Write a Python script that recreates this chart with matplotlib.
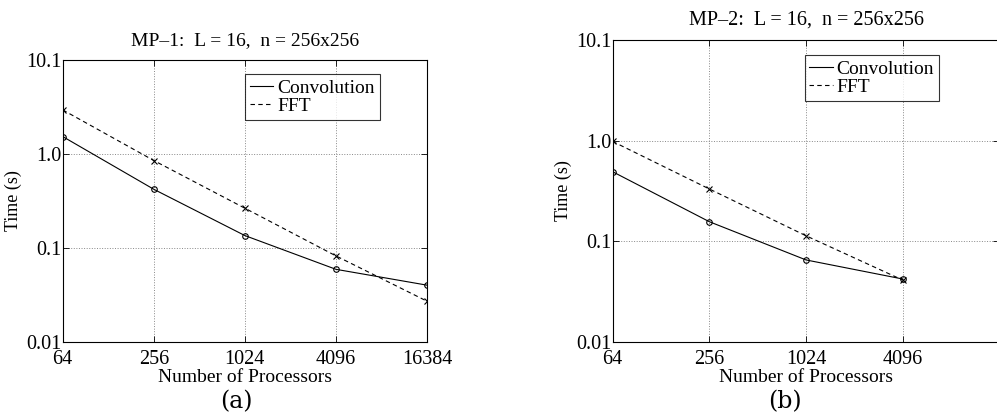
import matplotlib.pyplot as plt

plt.rcParams['font.family'] = ['Liberation Serif', 'DejaVu Serif']
plt.rcParams['font.size'] = 12

# panel (a): MP-1
procs_a = [64, 256, 1024, 4096, 16384]
conv_a = [1.53, 0.42, 0.135, 0.059, 0.040]
fft_a = [2.94, 0.85, 0.264, 0.082, 0.027]

# panel (b): MP-2
procs_b = [64, 256, 1024, 4096]
conv_b = [0.49, 0.156, 0.065, 0.042]
fft_b = [0.98, 0.33, 0.113, 0.041]

yticks = [0.01, 0.1, 1.0, 10.0]
ylabels = ['0.01', '0.1', '1.0', '10.1']

fig = plt.figure(figsize=(9.97, 4.16), dpi=100)
ax1 = fig.add_axes([0.0629, 0.1786, 0.3654, 0.6772])
ax2 = fig.add_axes([0.6145, 0.1786, 0.3880, 0.7252])


def setup(ax, procs, conv, fft, title, tsize, xticks, legend_pos):
    ax.plot(procs, conv, '-', color='black', lw=0.8, marker='o', ms=4,
            mfc='none', mew=0.8, label='Convolution')
    ax.plot(procs, fft, '--', color='black', lw=0.8, marker='x', ms=4,
            mew=0.8, dashes=(4, 3), label='FFT')
    ax.set_xscale('log', base=2)
    ax.set_yscale('log')
    ax.set_xlim(64, 16384)
    ax.set_ylim(0.01, 10)
    ax.set_xticks(xticks)
    ax.set_xticklabels([str(x) for x in xticks])
    ax.set_yticks(yticks)
    ax.set_yticklabels(ylabels)
    ax.minorticks_off()
    ax.tick_params(direction='in', top=True, right=True, length=4,
                   width=0.6, labelsize=14.5)
    ax.tick_params(axis='x', pad=6)
    ax.tick_params(axis='y', pad=1)
    ax.grid(True, which='major', linestyle=':', color='#888888', lw=0.7)
    for s in ax.spines.values():
        s.set_linewidth(0.8)
    ax.set_title(title, fontsize=tsize, pad=11)
    ax.set_xlabel('Number of Processors', fontsize=14, labelpad=0)
    ax.set_ylabel('Time (s)', fontsize=13, labelpad=3)
    leg = ax.legend(loc='upper left', bbox_to_anchor=legend_pos,
                    fontsize=14, frameon=True, fancybox=False,
                    handlelength=1.2, handletextpad=0.2, borderpad=0.25,
                    labelspacing=0.05, borderaxespad=0)
    leg.get_frame().set_edgecolor('black')
    leg.get_frame().set_linewidth(0.8)
    for h in leg.legend_handles:
        h.set_marker('')


setup(ax1, procs_a, conv_a, fft_a, 'MP\u20131:  L = 16,  n = 256x256', 14,
      procs_a, (0.501, 0.95))
setup(ax2, procs_b, conv_b, fft_b, 'MP\u20132:  L = 16,  n = 256x256', 14.5,
      procs_b, (0.496, 0.95))

fig.text(0.2367, 0.018, '(a)', ha='center', fontsize=17, family='DejaVu Serif')
fig.text(0.7874, 0.018, '(b)', ha='center', fontsize=17, family='DejaVu Serif')

plt.savefig('out.png', dpi=100)
